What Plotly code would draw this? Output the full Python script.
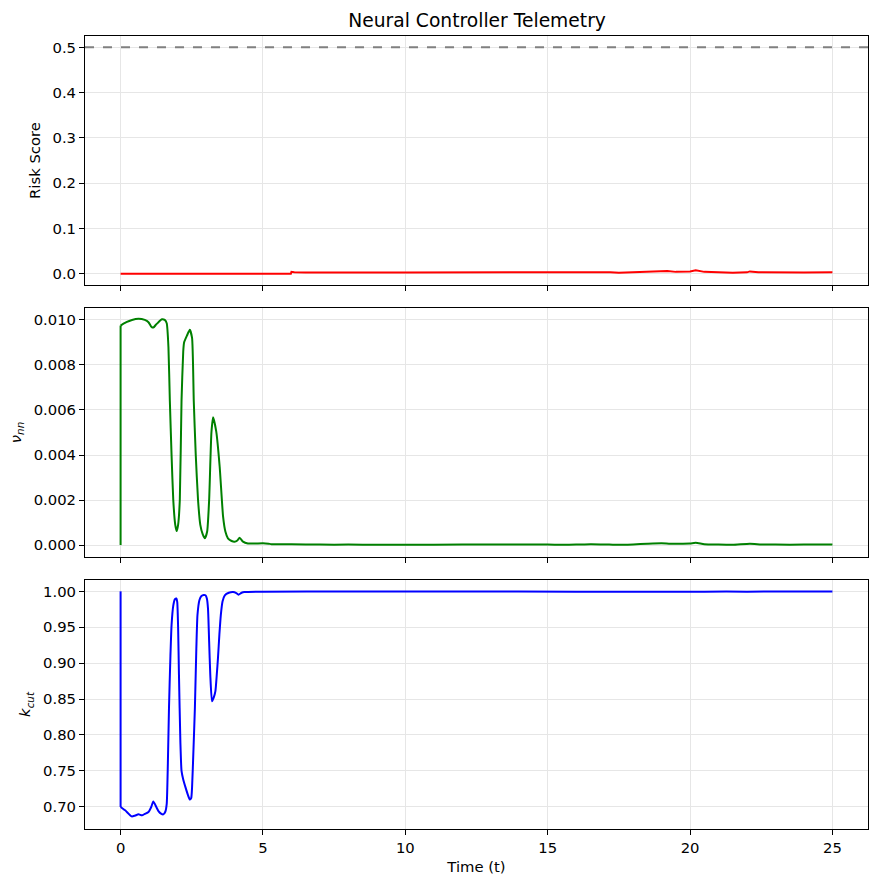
import plotly.graph_objects as go

# ---------------- data ----------------
risk_t = [0, 5.98, 6.0, 6.1, 6.5, 7, 8, 9, 10, 11, 12, 12.5, 13, 14, 15, 15.5, 16, 16.5, 16.8,
          17.2, 17.5, 18, 18.3, 18.7, 19, 19.2, 19.5, 20, 20.2, 20.5, 21, 21.5, 22, 22.1, 22.4,
          23, 24, 25]
risk_v = [0, 0, 0.004, 0.003, 0.0025, 0.0028, 0.0025, 0.0027, 0.0027, 0.0028, 0.003, 0.0032,
          0.003, 0.003, 0.0028, 0.003, 0.0022, 0.0035, 0.0038, 0.0032, 0.002, 0.003, 0.0045,
          0.004, 0.005, 0.006, 0.004, 0.005, 0.0075, 0.004, 0.003, 0.002, 0.003, 0.005, 0.003,
          0.0025, 0.0027, 0.003]
risk_threshold = 0.5

nu_t = [0, 0, 0.2, 0.4, 0.63, 0.85, 0.98, 1.08, 1.15, 1.25, 1.33, 1.45, 1.55, 1.62, 1.68, 1.73,
        1.79, 1.85, 1.92, 1.97, 2.02, 2.08, 2.14, 2.2, 2.23, 2.33, 2.43, 2.51, 2.57, 2.64, 2.72,
        2.8, 2.88, 2.96, 3.04, 3.11, 3.19, 3.25, 3.36, 3.48, 3.6, 3.68, 3.77, 3.9, 4.0, 4.1, 4.18,
        4.3, 4.47, 5.0, 5.2, 5.3, 6, 7, 8, 9, 10, 12, 13, 14, 15, 15.5, 16, 16.5, 17, 17.5, 18,
        18.5, 19, 19.3, 19.6, 20, 20.2, 20.5, 21, 21.5, 22.1, 22.5, 23, 24, 25]
nu_v = [0, 0.00975, 0.0099, 0.0100, 0.01005, 0.0100, 0.0099, 0.0097, 0.00966, 0.0098, 0.0099,
        0.01003, 0.0100, 0.00985, 0.0088, 0.0064, 0.0040, 0.0020, 0.0009, 0.00062, 0.0009,
        0.0020, 0.0064, 0.0086, 0.0090, 0.0093, 0.00956, 0.0092, 0.0064, 0.0040, 0.0020,
        0.0009, 0.0005, 0.0003, 0.0006, 0.0020, 0.0050, 0.00568, 0.00504, 0.00348, 0.00126,
        0.0006, 0.0003, 0.00018, 0.00015, 0.0002, 0.00033, 0.00015, 0.00007, 0.00008, 0.00006,
        0.00004, 0.00004, 0.00002, 0.00002, 0.00001, 0.00001, 0.00002, 0.00002, 0.00002,
        0.00002, 0.00001, 0.00002, 0.00004, 0.00003, 0.00001, 0.00003, 0.00006, 0.00008,
        0.00006, 0.00006, 0.00007, 0.0001, 0.00004, 0.00002, 0.00001, 0.00006, 0.00003,
        0.00002, 0.00002, 0.00003]

k_t = [0, 0, 0.16, 0.39, 0.5, 0.63, 0.75, 0.85, 0.98, 1.08, 1.15, 1.25, 1.33, 1.42, 1.5, 1.57,
       1.62, 1.66, 1.70, 1.75, 1.79, 1.85, 1.91, 1.96, 1.99, 2.02, 2.05, 2.1, 2.14, 2.2, 2.28,
       2.36, 2.43, 2.48, 2.51, 2.56, 2.61, 2.66, 2.70, 2.77, 2.84, 2.92, 2.98, 3.03, 3.07, 3.11,
       3.15, 3.21, 3.27, 3.33, 3.38, 3.42, 3.47, 3.52, 3.58, 3.66, 3.8, 3.95, 4.05, 4.14, 4.25,
       4.35, 5, 8, 12, 16, 18, 20, 20.5, 22, 25]
k_v = [1.0, 0.6997, 0.695, 0.6866, 0.6875, 0.6894, 0.688, 0.690, 0.6927, 0.700, 0.7074, 0.700,
       0.694, 0.6905, 0.6894, 0.693, 0.704, 0.76, 0.838, 0.91, 0.953, 0.98, 0.989, 0.990, 0.985,
       0.95, 0.884, 0.79, 0.750, 0.738, 0.727, 0.717, 0.710, 0.712, 0.727, 0.78, 0.838, 0.92,
       0.967, 0.988, 0.9935, 0.995, 0.9945, 0.99, 0.976, 0.93, 0.884, 0.847, 0.852, 0.861, 0.885,
       0.907, 0.94, 0.967, 0.986, 0.9945, 0.998, 0.999, 0.998, 0.9954, 0.998, 0.999, 0.9995,
       0.9997, 0.9997, 0.9996, 0.9995, 0.9993, 0.9996, 0.9996, 0.9997]

x_ticks = [0, 5, 10, 15, 20, 25]
risk_ticks = [0.0, 0.1, 0.2, 0.3, 0.4, 0.5]
nu_ticks = [0.0, 0.002, 0.004, 0.006, 0.008, 0.010]
k_ticks = [0.70, 0.75, 0.80, 0.85, 0.90, 0.95, 1.00]

# ---------------- figure ----------------
FONT = "DejaVu Sans"
TICK = 14.8
fig = go.Figure()
fig.add_trace(go.Scatter(x=risk_t, y=risk_v, mode="lines", line=dict(color="#ff0000", width=2),
                         xaxis="x", yaxis="y", showlegend=False))

# initial step (straight) + smooth remainder
for t_arr, v_arr, col, ax in [(nu_t, nu_v, "#008000", "2"), (k_t, k_v, "#0000ff", "3")]:
    fig.add_trace(go.Scatter(x=t_arr[:2], y=v_arr[:2], mode="lines",
                             line=dict(color=col, width=2),
                             xaxis="x" + ax, yaxis="y" + ax, showlegend=False))
    fig.add_trace(go.Scatter(x=t_arr[1:], y=v_arr[1:], mode="lines",
                             line=dict(color=col, width=2, shape="spline", smoothing=0.5),
                             xaxis="x" + ax, yaxis="y" + ax, showlegend=False))

fig.add_shape(type="line", xref="x domain", yref="y", x0=0, x1=1, y0=risk_threshold,
              y1=risk_threshold, line=dict(color="#808080", width=2, dash="dash"))

axis_common = dict(showline=True, mirror=True, linecolor="black", linewidth=1,
                   ticks="outside", ticklen=5, tickwidth=1, tickcolor="black",
                   showgrid=True, gridcolor="#e6e6e6", gridwidth=1, zeroline=False,
                   tickfont=dict(family=FONT, size=TICK, color="black"))

xr = [-1.25, 26.25]
fig.update_layout(
    width=869, height=879,
    margin=dict(l=85, r=1, t=36, b=50),
    paper_bgcolor="white", plot_bgcolor="white",
    font=dict(family=FONT, color="black"),
    title=dict(text="Neural Controller Telemetry", x=0.549, xanchor="center", y=0.977,
               yanchor="middle", font=dict(family=FONT, size=18.7, color="black")),
    xaxis=dict(domain=[0, 1], anchor="y", range=xr, tickvals=x_ticks, showticklabels=False,
               **axis_common),
    xaxis2=dict(domain=[0, 1], anchor="y2", range=xr, tickvals=x_ticks, showticklabels=False,
                matches="x", **axis_common),
    xaxis3=dict(domain=[0, 1], anchor="y3", range=xr, tickvals=x_ticks, matches="x",
                title=dict(text="Time (t)", font=dict(family=FONT, size=TICK), standoff=6),
                **axis_common),
    yaxis=dict(domain=[0.686, 1.0], anchor="x", range=[-0.025, 0.525], tickvals=risk_ticks,
               tickformat=".1f",
               title=dict(text="Risk Score", font=dict(family=FONT, size=TICK), standoff=8),
               **axis_common),
    yaxis2=dict(domain=[0.343, 0.657], anchor="x2", range=[-0.00053, 0.01053],
                tickvals=nu_ticks, tickformat=".3f",
                title=dict(text="<i>ν<sub>nn</sub></i>", font=dict(family=FONT, size=TICK),
                           standoff=8),
                **axis_common),
    yaxis3=dict(domain=[0.0, 0.314], anchor="x3", range=[0.669, 1.0158], tickvals=k_ticks,
                tickformat=".2f",
                title=dict(text="<i>k<sub>cut</sub></i>", font=dict(family=FONT, size=TICK),
                           standoff=8),
                **axis_common),
)

fig.write_html("out.html")
